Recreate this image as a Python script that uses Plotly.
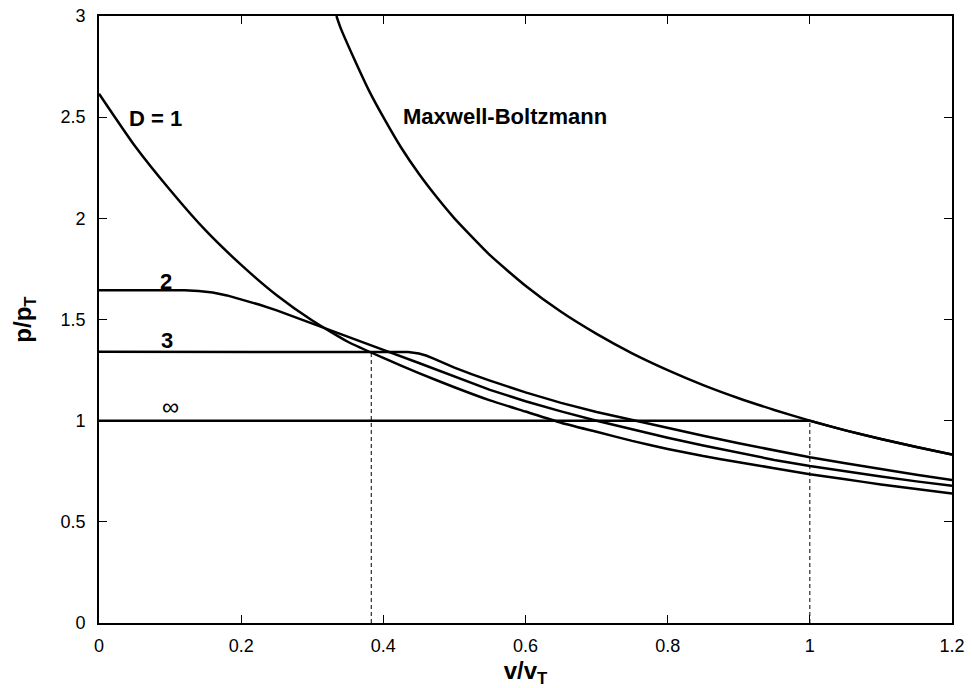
import plotly.graph_objects as go

FONT = "Liberation Sans, Arial, Helvetica, sans-serif"

# ---- data ----
d1_v = [0.0, 0.05, 0.10, 0.15, 0.20, 0.25, 0.30, 0.35, 0.40, 0.45, 0.50, 0.55, 0.60,
        0.65, 0.70, 0.75, 0.80, 0.85, 0.90, 0.95, 1.00, 1.05, 1.10, 1.15, 1.20]
d1_p = [2.616, 2.36, 2.14, 1.94, 1.77, 1.62, 1.495, 1.39, 1.31, 1.235, 1.165, 1.10, 1.045,
        0.99, 0.945, 0.90, 0.86, 0.825, 0.795, 0.765, 0.735, 0.71, 0.685, 0.662, 0.640]

d2_v = [0.0, 0.10, 0.12, 0.14, 0.16, 0.18, 0.20, 0.225, 0.25, 0.275, 0.30, 0.35, 0.40, 0.45,
        0.50, 0.55, 0.60, 0.65, 0.70, 0.75, 0.80, 0.85, 0.90, 0.95, 1.00, 1.05, 1.10, 1.15, 1.20]
d2_p = [1.645, 1.645, 1.644, 1.641, 1.633, 1.619, 1.60, 1.574, 1.545, 1.513, 1.48, 1.415, 1.35,
        1.285, 1.217, 1.152, 1.096, 1.046, 1.0, 0.957, 0.916, 0.877, 0.84, 0.806, 0.776, 0.749,
        0.724, 0.70, 0.678]

d3_v = [0.0, 0.40, 0.42, 0.435, 0.45, 0.46, 0.47, 0.485, 0.50, 0.525, 0.55, 0.60, 0.65, 0.70,
        0.75, 0.80, 0.85, 0.90, 0.95, 1.00, 1.05, 1.10, 1.15, 1.20]
d3_p = [1.341, 1.341, 1.341, 1.339, 1.332, 1.322, 1.308, 1.285, 1.262, 1.229, 1.198, 1.14,
        1.088, 1.043, 1.003, 0.963, 0.925, 0.888, 0.852, 0.819, 0.79, 0.76, 0.733, 0.707]

inf_v = [0.0, 1.0, 1.05, 1.10, 1.15, 1.20]
inf_p = [1.0, 1.0, 0.952, 0.909, 0.870, 0.833]

mb_v = [0.334, 0.34, 0.36, 0.38, 0.40, 0.425, 0.45, 0.475, 0.50, 0.55, 0.60, 0.65, 0.70,
        0.75, 0.80, 0.85, 0.90, 0.95, 1.00, 1.05, 1.10, 1.15, 1.20]
mb_p = [3.0, 2.94, 2.78, 2.63, 2.50, 2.35, 2.22, 2.105, 2.0, 1.818, 1.667, 1.538, 1.429,
        1.333, 1.25, 1.176, 1.111, 1.053, 1.0, 0.952, 0.909, 0.870, 0.833]

# dashed guide lines (critical velocities)
crit_v = [0.383, 1.0]
crit_p = [1.341, 1.0]

labels = ["D = 1", "2", "3", "\u221e", "Maxwell-Boltzmann"]
label_v = [0.080, 0.094, 0.095, 0.101, 0.5705]
label_p = [2.494, 1.69, 1.398, 1.069, 2.504]
label_bold = [True, True, True, False, True]

x_ticks = [0, 0.2, 0.4, 0.6, 0.8, 1, 1.2]
y_ticks = [0, 0.5, 1, 1.5, 2, 2.5, 3]

fig = go.Figure()

for cv, cp in zip(crit_v, crit_p):
    fig.add_trace(go.Scatter(x=[cv, cv], y=[0, cp], mode="lines",
                             line=dict(color="black", width=1, dash="4px,3px"),
                             showlegend=False, hoverinfo="skip"))

series = [(d1_v, d1_p, "spline"), (d2_v, d2_p, "linear"), (d3_v, d3_p, "linear"),
          (inf_v, inf_p, "linear"), (mb_v, mb_p, "spline")]
for vv, pp, shp in series:
    ln = dict(color="black", width=2.5, shape=shp)
    if shp == "spline":
        ln["smoothing"] = 0.5
    fig.add_trace(go.Scatter(x=vv, y=pp, mode="lines", line=ln, showlegend=False))

for t, lv, lp, b in zip(labels, label_v, label_p, label_bold):
    fig.add_annotation(x=lv, y=lp, text=f"<b>{t}</b>" if b else t, showarrow=False,
                       font=dict(family=FONT, size=22 if b else 24, color="black"),
                       xanchor="center", yanchor="middle")

axis_common = dict(showline=True, linecolor="black", linewidth=1.6, mirror="ticks",
                   ticks="inside", ticklen=8, tickwidth=1.2, tickcolor="black",
                   showgrid=False, zeroline=False, automargin=False,
                   tickfont=dict(family=FONT, size=18, color="black"))

fig.update_xaxes(range=[0, 1.2], tickvals=x_ticks, ticklabelstandoff=6,
                 title=dict(text="<b>v/v<sub>T</sub></b>",
                            font=dict(family=FONT, size=24, color="black"), standoff=8),
                 **axis_common)
fig.update_yaxes(range=[0, 3], tickvals=y_ticks, ticklabelstandoff=8,
                 title=dict(text="<b>p/p<sub>T</sub></b>",
                            font=dict(family=FONT, size=24, color="black"), standoff=22),
                 **axis_common)

fig.update_layout(width=972, height=688, margin=dict(l=99, r=20, t=16, b=65),
                  plot_bgcolor="white", paper_bgcolor="white",
                  font=dict(family=FONT, color="black"))

fig.write_html("out.html")
